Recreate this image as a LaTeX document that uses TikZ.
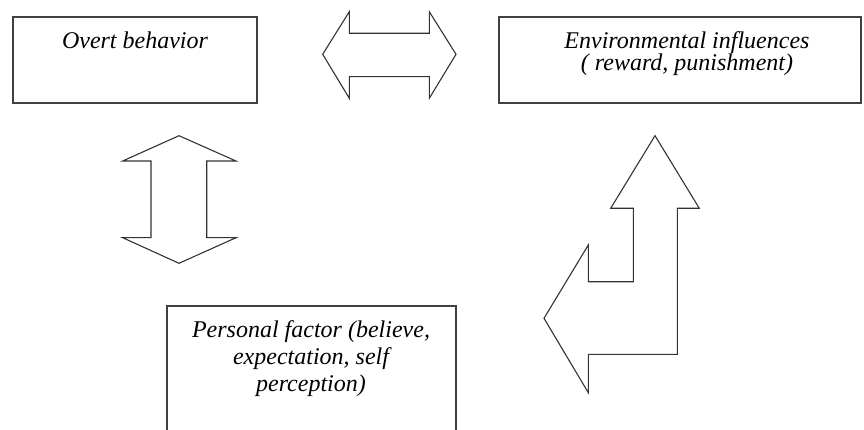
\documentclass[tikz,border=0pt]{standalone}
\usepackage{fontspec}
\setmainfont{Liberation Serif}
\begin{document}
\begin{tikzpicture}[x=1pt,y=-1pt,
  box/.style={draw=black!75,line width=1.1pt,inner sep=0pt},
  arr/.style={draw=black!80,line width=1.1pt,line join=miter,fill=white},
  lbl/.style={font=\fontsize{24}{20}\itshape,align=center}]
\useasboundingbox (0,0) rectangle (864,430);
\clip (0,0) rectangle (864,430);
% boxes
\node[box,minimum width=244pt,minimum height=86pt] (overt) at (135,60) {};
\node[lbl,anchor=base] (overtT) at (135,49) {Overt behavior};
\node[box,minimum width=362pt,minimum height=86pt] (env) at (680,60) {};
\node[lbl,anchor=base,font=\fontsize{24}{20}\itshape] (envT) at (687,71) {Environmental influences\\( reward, punishment)};
\node[box,minimum width=289pt,minimum height=140pt] (pers) at (311.5,376) {};
\node[lbl,anchor=base,font=\fontsize{24}{27}\itshape] (persT) at (311,391) {Personal factor (believe,\\expectation, self\\perception)};
% horizontal double arrow
\draw[arr] (322.7,54.3) -- (349.3,11.7) -- (349.3,33.3) -- (429.3,33.3) -- (429.3,11.7) -- (456,54.3)
  -- (429.3,98.3) -- (429.3,76.7) -- (349.3,76.7) -- (349.3,98.3) -- cycle;
% vertical double arrow
\draw[arr] (179,135.7) -- (236,161) -- (206.7,161) -- (206.7,237.7) -- (236,237.7) -- (179,263.3)
  -- (122.7,237.7) -- (151,237.7) -- (151,161) -- (122.7,161) -- cycle;
% bent arrow
\draw[arr] (655,135.7) -- (699.3,208.3) -- (677.3,208.3) -- (677.3,354.3) -- (588.3,354.3) -- (588.3,392.7)
  -- (544,318.3) -- (588.3,245) -- (588.3,281.7) -- (633.3,281.7) -- (633.3,208.3) -- (610.7,208.3) -- cycle;
\end{tikzpicture}
\end{document}
